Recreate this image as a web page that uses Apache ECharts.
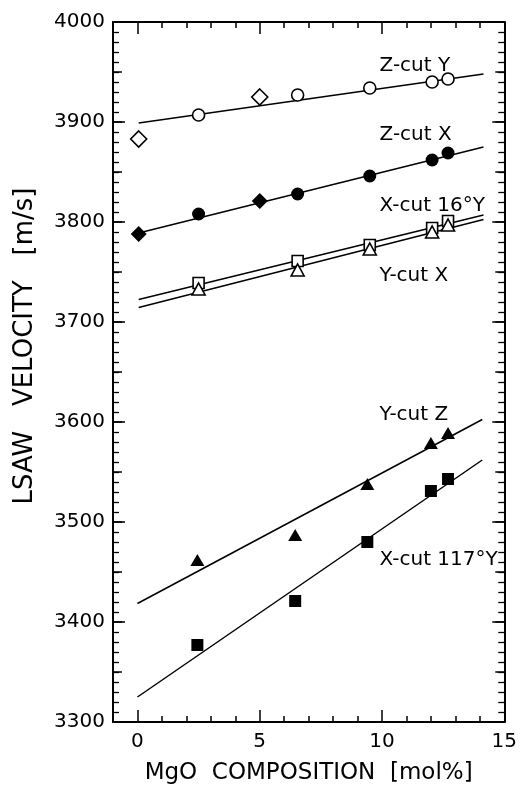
<!DOCTYPE html>
<html>
<head>
<meta charset="utf-8">
<script src="https://cdn.jsdelivr.net/npm/echarts@6/dist/echarts.min.js"></script>
<style>
    html, body { margin: 0; padding: 0; background: #fff; }
    #content { width: 520px; height: 793px; }
</style>
</head>
<body>
<div id="content"></div>
<script>
// 横坐标 (MgO 含量)
var xMain = [2.5, 6.55, 9.5, 12.05, 12.7];
var xLow = [2.45, 6.45, 9.4, 12.0, 12.7];
var xDiamond = [0.05, 5.0];

// 测量值 [m/s]
var zcutYCircle = [3907, 3927, 3934, 3940, 3943];
var zcutYDiamond = [3883, 3925];
var zcutXCircle = [3808, 3828, 3846, 3862, 3869];
var zcutXDiamond = [3788, 3821];
var xcut16Square = [3739, 3761, 3777, 3794, 3801];
var ycutXTriangle = [3733, 3752, 3773, 3790, 3797];
var ycutZTriangle = [3462, 3487, 3538, 3579, 3589];
var xcut117Square = [3377, 3421, 3480, 3531, 3543];

// 拟合直线的两端
var fitX = [0.05, 14.15];
var fitXLow = [0, 14.1];
var zcutYFit = [3899, 3948];
var zcutXFit = [3789, 3875];
var xcut16Fit = [3722.5, 3807];
var ycutXFit = [3714.5, 3802.5];
var ycutZFit = [3418.5, 3602.5];
var xcut117Fit = [3325, 3562];

// 曲线名称标注
var labelNames = ["Z-cut Y", "Z-cut X", "X-cut 16°Y", "Y-cut X", "Y-cut Z", "X-cut 117°Y"];
var labelX = [9.9, 9.9, 9.9, 9.9, 9.9, 9.9];
var labelY = [3956, 3887, 3816, 3746.5, 3607, 3462];

var xMajor = [0, 5, 10, 15];
var font = "DejaVu Sans";

function pairs(xs, ys) {
    var out = [];
    for (var i = 0; i < xs.length; i++) {
        out.push([xs[i], ys[i]]);
    }
    return out;
}

function scatter(xs, ys, symbol, size, filled) {
    return {
        type: "scatter",
        data: pairs(xs, ys),
        symbol: symbol,
        symbolSize: size,
        z: 5,
        itemStyle: {
            color: filled ? "#000" : "#fff",
            borderColor: "#000",
            borderWidth: filled ? 0 : 1.6,
            opacity: 1
        }
    };
}

function fitLine(xs, ys) {
    return {
        type: "line",
        data: pairs(xs, ys),
        symbol: "none",
        z: 3,
        lineStyle: { color: "#000", width: 1.5 }
    };
}

// x 轴: 小刻度轴 + 大刻度轴叠在一起
function xAx(pos, major, withLabel) {
    var ax = {
        type: "value",
        position: pos,
        min: -1,
        max: 15,
        splitLine: { show: false },
        axisLine: { show: !major, onZero: false, lineStyle: { color: "#000", width: 2 } },
        axisTick: { inside: true, length: major ? 12 : 6, lineStyle: { color: "#000", width: 1.5 } },
        axisLabel: { show: false }
    };
    if (major) {
        ax.axisTick.customValues = xMajor;
        if (withLabel) {
            ax.axisLabel = {
                show: true,
                customValues: xMajor,
                margin: 10,
                color: "#000",
                fontFamily: font,
                fontSize: 20
            };
            ax.name = "MgO  COMPOSITION  [mol%]";
            ax.nameLocation = "middle";
            ax.nameGap = 40;
            ax.nameTextStyle = { color: "#000", fontFamily: font, fontSize: 23 };
        }
    } else {
        ax.interval = 1;
    }
    return ax;
}

// y 轴: 100 大刻度(含 10 小刻度) + 50 中刻度
function yAx(pos, step, withLabel) {
    var ax = {
        type: "value",
        position: pos,
        min: 3300,
        max: 4000,
        interval: step,
        splitLine: { show: false },
        axisLine: { show: step == 100, onZero: false, lineStyle: { color: "#000", width: 2 } },
        axisTick: { inside: true, length: step == 100 ? 12 : 9, lineStyle: { color: "#000", width: 1.5 } },
        axisLabel: { show: false }
    };
    if (step == 100) {
        ax.minorTick = { show: true, splitNumber: 10, length: 6, lineStyle: { color: "#000", width: 1.3 } };
    }
    if (withLabel) {
        ax.axisLabel = {
            show: true,
            margin: 8,
            color: "#000",
            fontFamily: font,
            fontSize: 20,
            formatter: function(v) {
                return String(v);
            }
        };
        ax.name = "LSAW   VELOCITY   [m/s]";
        ax.nameLocation = "middle";
        ax.nameGap = 75;
        ax.nameTextStyle = { color: "#000", fontFamily: font, fontSize: 26, padding: [0, 0, 0, 52] };
    }
    return ax;
}

var labelData = [];
for (var i = 0; i < labelNames.length; i++) {
    labelData.push({ value: [labelX[i], labelY[i]], name: labelNames[i] });
}

var myChart = echarts.init(document.getElementById("content"));

myChart.setOption({
    backgroundColor: "#fff",
    animation: false,
    grid: { left: 113, right: 15, top: 22, bottom: 71 },
    xAxis: [
        xAx("bottom", false, false),
        xAx("bottom", true, true),
        xAx("top", false, false),
        xAx("top", true, false)
    ],
    yAxis: [
        yAx("left", 100, true),
        yAx("left", 50, false),
        yAx("right", 100, false),
        yAx("right", 50, false)
    ],
    series: [
        fitLine(fitX, zcutYFit),
        fitLine(fitX, zcutXFit),
        fitLine(fitX, xcut16Fit),
        fitLine(fitX, ycutXFit),
        fitLine(fitXLow, ycutZFit),
        fitLine(fitXLow, xcut117Fit),
        scatter(xMain, zcutYCircle, "circle", 12, false),
        scatter(xDiamond, zcutYDiamond, "diamond", 16, false),
        scatter(xMain, zcutXCircle, "circle", 13, true),
        scatter(xDiamond, zcutXDiamond, "diamond", 16, true),
        scatter(xMain, xcut16Square, "rect", 11, false),
        scatter(xMain, ycutXTriangle, "triangle", [13, 12], false),
        scatter(xLow, ycutZTriangle, "triangle", [14, 12], true),
        scatter(xLow, xcut117Square, "rect", 12, true),
        {
            // 文字标注
            type: "scatter",
            data: labelData,
            symbolSize: 0,
            itemStyle: { color: "#000", opacity: 1 },
            z: 6,
            label: {
                show: true,
                position: "right",
                distance: 0,
                formatter: "{b}",
                color: "#000",
                opacity: 1,
                fontFamily: font,
                fontSize: 20
            }
        }
    ]
});
</script>
</body>
</html>
